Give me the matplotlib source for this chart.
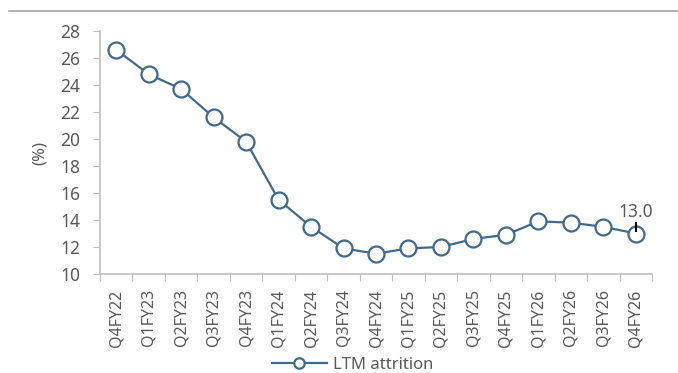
import matplotlib.pyplot as plt
from matplotlib.lines import Line2D

plt.rcParams['font.family'] = ['Noto Sans', 'DejaVu Sans']

quarters = ['Q4FY22', 'Q1FY23', 'Q2FY23', 'Q3FY23', 'Q4FY23', 'Q1FY24', 'Q2FY24',
            'Q3FY24', 'Q4FY24', 'Q1FY25', 'Q2FY25', 'Q3FY25', 'Q4FY25', 'Q1FY26',
            'Q2FY26', 'Q3FY26', 'Q4FY26']
attrition = [26.6, 24.8, 23.7, 21.6, 19.8, 15.5, 13.5, 11.9, 11.5, 11.9, 12.0,
             12.6, 12.9, 13.9, 13.8, 13.5, 13.0]
yticks = [10, 12, 14, 16, 18, 20, 22, 24, 26, 28]

col = '#41698C'
grey = '#595959'
spine = '#BFBFBF'

fig = plt.figure(figsize=(6.78, 3.73), dpi=100)
ax = fig.add_axes([0.1475, 0.2654, 0.8142, 0.6515])

x = list(range(len(quarters)))
ax.plot(x, attrition, color=col, lw=1.6, marker='o', ms=11.5, mfc='white',
        mec=col, mew=1.6, label='LTM attrition')

ax.set_xlim(-0.5, len(quarters) - 0.5)
ax.set_ylim(10, 28)
ax.set_yticks(yticks)
ax.set_xticks([i - 0.5 for i in range(len(quarters) + 1)], minor=False)
ax.set_xticklabels([''] * (len(quarters) + 1))
ax.set_xticks(x, minor=True)
ax.set_xticklabels(quarters, minor=True, rotation=90, color=grey, fontsize=11.5)
ax.tick_params(axis='x', which='minor', length=0, pad=11)
ax.tick_params(axis='x', which='major', length=5, color=spine, direction='out')
ax.tick_params(axis='y', length=5, color=spine, labelcolor=grey, labelsize=12.5, pad=9)

for s in ['top', 'right']:
    ax.spines[s].set_visible(False)
for s in ['left', 'bottom']:
    ax.spines[s].set_color(spine)
    ax.spines[s].set_linewidth(1.2)

ax.set_ylabel('(%)', color=grey, fontsize=12, labelpad=9)

# label on last point
last = len(quarters) - 1
ax.plot([last, last], [attrition[-1] + 0.15, attrition[-1] + 0.8], color='black', lw=1.5)
ax.annotate(f'{attrition[-1]:.1f}', (last, attrition[-1] + 0.95), ha='center', va='bottom',
            color=grey, fontsize=12.5)

handle = Line2D([], [], color=col, lw=1.6, marker='o', ms=7.5, mfc='white', mec=col, mew=1.6)
fig.legend([handle], ['LTM attrition'], loc='center', bbox_to_anchor=(0.52, 0.022),
           frameon=False, fontsize=12, labelcolor=grey, handlelength=3.3, handletextpad=0.4)

fig.add_artist(Line2D([9 / 678, 1], [1 - 11 / 373, 1 - 11 / 373], color='#A6A6A6', lw=1.2))

fig.savefig('out.png', dpi=100)
